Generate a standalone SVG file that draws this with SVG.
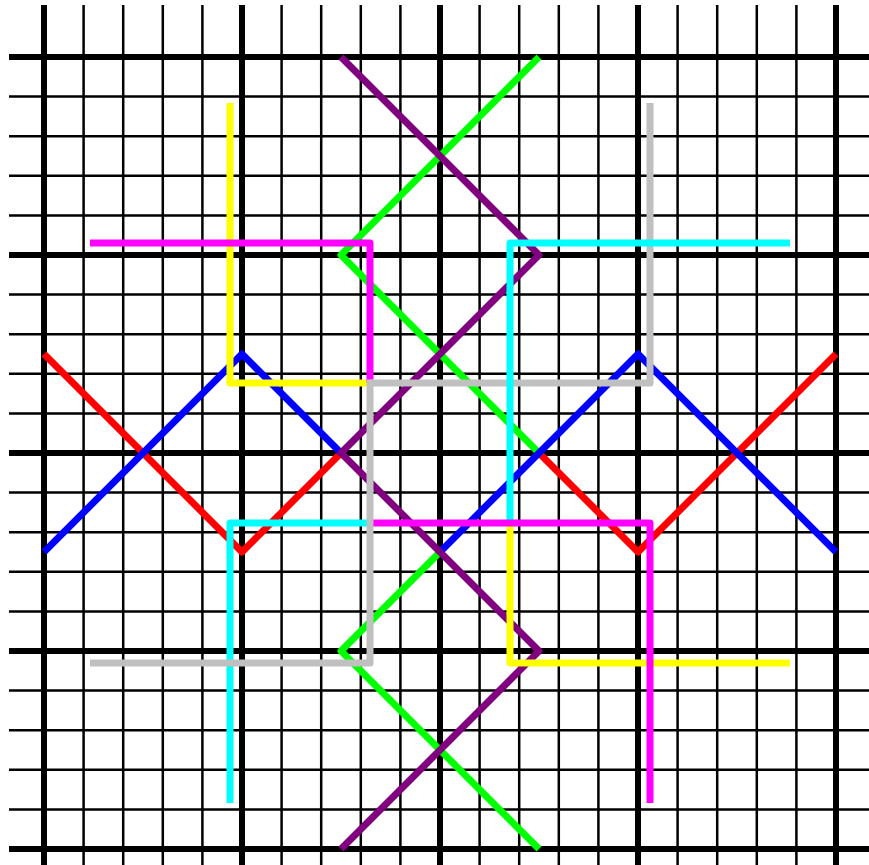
<svg xmlns="http://www.w3.org/2000/svg" width="869" height="865" viewBox="0 0 869 865">
<style>
.thin{stroke:#000;stroke-width:2.5;fill:none}
.thick{stroke:#000;stroke-width:6;fill:none}
.c{fill:none;stroke-width:7;stroke-linejoin:round}
</style>
<rect width="869" height="865" fill="#fff"/>
<g id="grid">
<path class="thin" d="M83.6 5V865M123.2 5V865M162.8 5V865M202.4 5V865M281.6 5V865M321.2 5V865M360.8 5V865M400.4 5V865M479.6 5V865M519.2 5V865M558.8 5V865M598.4 5V865M677.6 5V865M717.2 5V865M756.8 5V865M796.4 5V865"/>
<path class="thin" d="M9 96.6H869M9 136.2H869M9 175.8H869M9 215.4H869M9 294.6H869M9 334.2H869M9 373.8H869M9 413.4H869M9 492.6H869M9 532.2H869M9 571.8H869M9 611.4H869M9 690.6H869M9 730.2H869M9 769.8H869M9 809.4H869"/>
<path class="thick" d="M44 5V865M242 5V865M440 5V865M638 5V865M836 5V865"/>
<path class="thick" d="M9 57H869M9 255H869M9 453H869M9 651H869M9 849H869"/>
</g>
<g id="lines">
<path class="c" stroke="#ff0000" d="M44 354L242 552L341 453M539 453L638 552L836 354"/>
<path class="c" stroke="#00ff00" d="M539 57L341 255L539 453M440 552L341 651L539 849"/>
<path class="c" stroke="#0000ff" d="M44 552L242 354L341 453M440 552L638 354L836 552"/>
<path class="c" stroke="#800080" d="M341 57L539 255L341 453L539 651L341 849"/>
<path class="c" stroke="#ffff00" d="M230 103V383H370"/>
<path class="c" stroke="#ff00ff" d="M90 243H370V383"/>
<path class="c" stroke="#c0c0c0" d="M650 103V383H370"/>
<path class="c" stroke="#00ffff" d="M230 803V523H370"/>
<path class="c" stroke="#00ffff" d="M790 243H510V523"/>
<path class="c" stroke="#ffff00" d="M510 523V663H790"/>
<path class="c" stroke="#ff00ff" d="M370 523H650V803"/>
<path class="c" stroke="#c0c0c0" d="M370 379.5V663H90"/>
</g>
</svg>
